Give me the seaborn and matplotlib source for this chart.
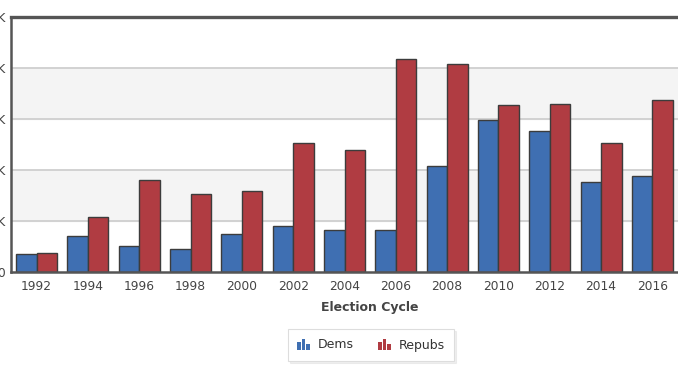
import matplotlib
matplotlib.use("Agg")
import matplotlib.pyplot as plt
from matplotlib.patches import Rectangle
from matplotlib.legend_handler import HandlerBase
import pandas as pd
import seaborn as sns

# данные (в тыс.)
years = ["1992", "1994", "1996", "1998", "2000", "2002", "2004",
         "2006", "2008", "2010", "2012", "2014", "2016"]
dems = [34, 70, 50, 44, 74, 90, 82, 82, 207, 298, 276, 175, 188]
repubs = [37, 107, 180, 152, 158, 252, 238, 418, 407, 326, 328, 252, 336]
y_ticks = [0, 100, 200, 300, 400, 500]

BLUE = "#3f6fb2"
RED = "#b03c42"

df = pd.DataFrame({
    "year": years * 2,
    "value": dems + repubs,
    "party": ["Dems"] * len(years) + ["Repubs"] * len(years),
})

sns.set_style("white")
plt.rcParams["font.family"] = ["DejaVu Sans"]

fig = plt.figure(figsize=(6.78, 3.81), dpi=100)
W, H = 678, 381
ax = fig.add_axes([11 / W, (H - 271.7) / H, (W - 11) / W, (271.7 - 16.7) / H])

# чередующиеся полосы фона
for lo, hi in [(100, 200), (300, 400)]:
    ax.axhspan(lo, hi, color="#f4f4f4", zorder=0)
for t in y_ticks[1:-1]:
    ax.axhline(t, color="#d2d2d2", lw=1.4, zorder=0.5)

sns.barplot(data=df, x="year", y="value", hue="party",
            palette={"Dems": BLUE, "Repubs": RED},
            edgecolor="#3c3c3c", linewidth=1.0, width=0.8,
            saturation=1, ax=ax, legend=False, zorder=2)

ax.set_ylim(0, 500)
ax.set_xlim(-0.5, len(years) - 0.5)
ax.set_yticks(y_ticks)
ax.set_yticklabels([f"{t}K" if t else "0" for t in y_ticks])
ax.tick_params(axis="both", length=0, colors="#444444", labelsize=8.8)
ax.tick_params(axis="x", pad=6)
ax.tick_params(axis="y", pad=4)

ax.spines["right"].set_visible(False)
ax.spines["top"].set_color("#555555")
ax.spines["top"].set_linewidth(2.4)
ax.spines["left"].set_color("#555555")
ax.spines["left"].set_linewidth(1.8)
ax.spines["bottom"].set_color("#555555")
ax.spines["bottom"].set_linewidth(1.8)

ax.set_ylabel("")
ax.set_xlabel("")
fig.text(370 / W, 1 - 308 / H, "Election Cycle", ha="center", va="center",
         fontsize=9, fontweight="bold", color="#444444")


# маленькая иконка-гистограмма для легенды
class BarIcon(HandlerBase):
    def __init__(self, color):
        super().__init__()
        self.color = color

    def create_artists(self, legend, orig_handle, xdescent, ydescent,
                       width, height, fontsize, trans):
        bw = width / 3.6
        gap = bw * 0.3
        hs = [0.7, 1.0, 0.55]
        arts = []
        for i, h in enumerate(hs):
            r = Rectangle((-xdescent + i * (bw + gap), -ydescent), bw, height * h,
                          facecolor=self.color, edgecolor="none", transform=trans)
            arts.append(r)
        return arts


h1 = Rectangle((0, 0), 1, 1)
h2 = Rectangle((0, 0), 1, 1)
leg = fig.legend([h1, h2], ["Dems", "Repubs"],
                 handler_map={h1: BarIcon(BLUE), h2: BarIcon(RED)},
                 loc="center", bbox_to_anchor=(371 / W, 1 - 345 / H),
                 ncol=2, fontsize=9, frameon=True, fancybox=False,
                 shadow={"color": "#cccccc", "alpha": 0.3, "ox": 1.5, "oy": -1.5},
                 handlelength=1.0, handleheight=1.0, columnspacing=2.0,
                 handletextpad=0.6, borderpad=0.75, labelcolor="#333333")
leg.get_frame().set_edgecolor("#dddddd")
leg.get_frame().set_linewidth(0.8)

fig.savefig("out.png", dpi=100)
